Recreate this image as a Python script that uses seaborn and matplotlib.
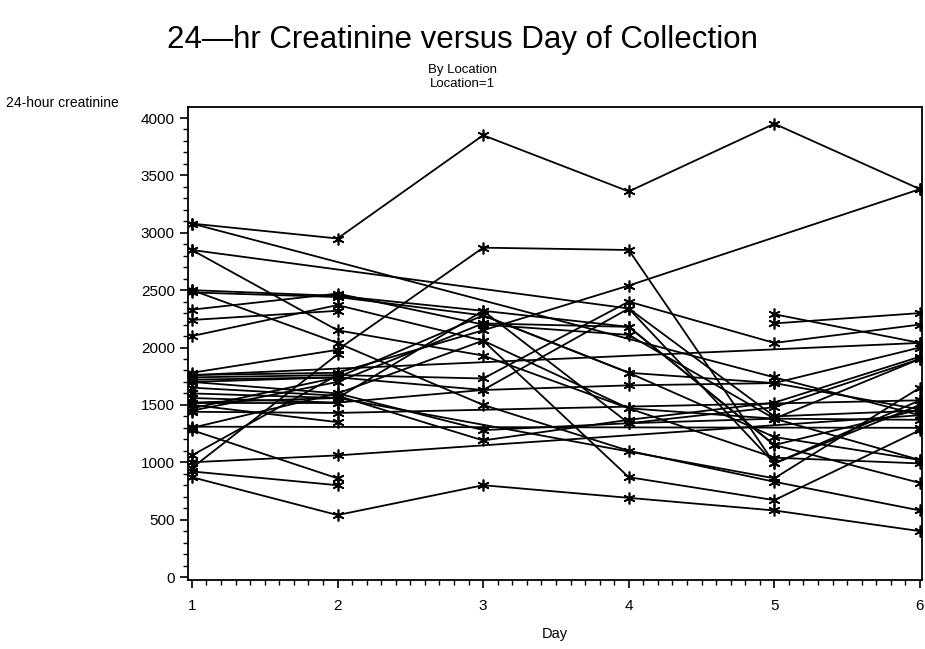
import numpy as np
import pandas as pd
import matplotlib
matplotlib.use("Agg")
import matplotlib.pyplot as plt
import seaborn as sns
from matplotlib.ticker import MultipleLocator

# ----------------------------------------------------------
# DATA  (24-hr creatinine per subject, days 1..6, nan = missing)
# ----------------------------------------------------------
days = [1, 2, 3, 4, 5, 6]
nan = np.nan

subj_01 = [3080, 2950, 3850, 3360, 3950, 3380]
subj_02 = [3080, nan, nan, nan, 1740, 1410]
subj_03 = [2850, 2150, 1930, 1470, 1040, 990]
subj_04 = [2850, nan, nan, 2340, 1400, 1450]
subj_05 = [2500, 2450, 2320, 2180, 1150, 820]
subj_06 = [2480, 2440, 2280, 1780, 1220, 1020]
subj_07 = [2500, 2040, 1500, 1100, 830, 580]
subj_08 = [2330, 2470, 2200, 2110, 1380, 1370]
subj_09 = [2240, 2320, nan, nan, nan, nan]
subj_10 = [2100, 2370, 2060, 870, 670, 1280]
subj_11 = [1780, 1980, 2870, 2850, 990, 1500]
subj_12 = [1760, 1780, 2150, 2540, nan, 3380]
subj_13 = [1740, 1760, 1730, 2400, 2040, 2200]
subj_14 = [1720, 1740, 1630, 1670, 1690, 2000]
subj_15 = [1700, 1600, 1280, 1340, 1480, 1900]
subj_16 = [1650, 1580, 1190, 1370, 1520, 1920]
subj_17 = [1600, 1560, nan, nan, 860, 1650]
subj_18 = [1440, 1430, nan, nan, nan, 1540]
subj_19 = [1520, 1520, nan, nan, nan, nan]
subj_20 = [1500, 1350, nan, nan, nan, nan]
subj_21 = [1310, nan, nan, nan, nan, 1300]
subj_22 = [1280, 860, nan, nan, nan, nan]
subj_23 = [1060, 1760, nan, nan, nan, nan]
subj_24 = [1000, 1060, nan, nan, nan, 1410]
subj_25 = [950, 1940, nan, nan, nan, nan]
subj_26 = [920, 800, nan, nan, nan, nan]
subj_27 = [870, 540, 800, 690, 580, 400]
subj_28 = [nan, nan, nan, nan, 2290, 2040]
subj_29 = [nan, nan, nan, nan, 2210, 2300]
subj_30 = [1470, 1740, nan, nan, nan, nan]
subj_31 = [1760, nan, nan, nan, nan, 2040]
subj_32 = [1520, 1560, 2320, 1340, 1380, 1020]
subj_33 = [1450, 1700, 2210, 2180, 1150, 1460]
subj_34 = [1700, 1740, 2280, 1780, 1690, 1460]
subj_35 = [1560, 1520, 1630, 2340, 990, 1540]
subj_36 = [1300, 1600, 2060, 1470, 1380, 1900]

subjects = [subj_01, subj_02, subj_03, subj_04, subj_05, subj_06, subj_07,
            subj_08, subj_09, subj_10, subj_11, subj_12, subj_13, subj_14,
            subj_15, subj_16, subj_17, subj_18, subj_19, subj_20, subj_21,
            subj_22, subj_23, subj_24, subj_25, subj_26, subj_27, subj_28,
            subj_29, subj_30, subj_31, subj_32, subj_33, subj_34, subj_35,
            subj_36]

rows = []
for i, vals in enumerate(subjects):
    for d, v in zip(days, vals):
        rows.append({"Subject": i + 1, "Day": d, "Creat": v})
df = pd.DataFrame(rows).dropna()

# ----------------------------------------------------------
# PLOT
# ----------------------------------------------------------
sns.set_style("ticks")
plt.rcParams["font.family"] = ["Liberation Sans", "DejaVu Sans"]
plt.rcParams["text.color"] = "black"
plt.rcParams["xtick.color"] = "black"
plt.rcParams["ytick.color"] = "black"
plt.rcParams["axes.labelcolor"] = "black"

fig = plt.figure(figsize=(9.25, 6.49), dpi=100)
ax = fig.add_axes([188 / 925, 1 - 580 / 649, (922 - 188) / 925, (580 - 107) / 649])

sns.lineplot(data=df, x="Day", y="Creat", units="Subject", estimator=None,
             color="black", lw=1.3, marker=(6, 2, 0), ms=8.5, mew=1.2,
             mec="black", ax=ax, legend=False)

ax.set_xlim(0.973, 6.014)
ax.set_ylim(-26, 4096)
ax.xaxis.set_major_locator(MultipleLocator(1))
ax.xaxis.set_minor_locator(MultipleLocator(0.1))
ax.yaxis.set_major_locator(MultipleLocator(500))
ax.yaxis.set_minor_locator(MultipleLocator(100))
ax.tick_params(which="major", length=6, width=1.2, labelsize=11, direction="out")
ax.tick_params(which="minor", length=3.5, width=1.0, direction="out")
ax.tick_params(axis="x", pad=8)
for s in ax.spines.values():
    s.set_visible(True)
    s.set_linewidth(1.3)
    s.set_color("black")
ax.set_xlabel("Day", fontsize=10.5, labelpad=10)
ax.set_ylabel("")

fig.text(0.006, 1 - 103 / 649, "24-hour creatinine", fontsize=10, ha="left", va="center")
fig.text(0.5, 1 - 40 / 649, "24\u2014hr Creatinine versus Day of Collection",
         fontsize=22.5, ha="center", va="center")
fig.text(0.5, 1 - 70 / 649, "By Location", fontsize=9.5, ha="center", va="center")
fig.text(0.5, 1 - 84 / 649, "Location=1", fontsize=9.5, ha="center", va="center")

plt.savefig("out.png", dpi=100)
plt.close()
